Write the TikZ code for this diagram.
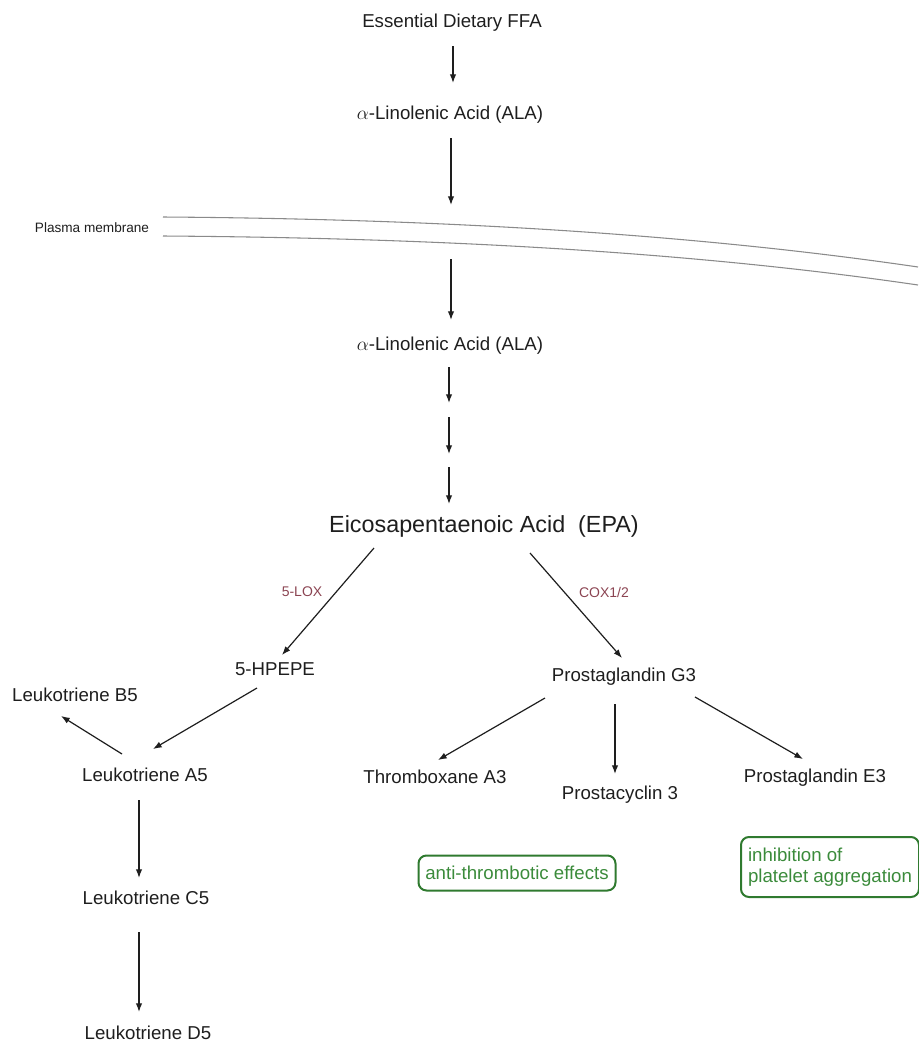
\documentclass[tikz,border=0pt]{standalone}
\usepackage{fontspec}
\setmainfont{Liberation Sans}
\usetikzlibrary{arrows.meta,calc}
\definecolor{txt}{HTML}{1E1E1E}
\definecolor{enz}{HTML}{8B4452}
\definecolor{gtxt}{HTML}{3B8B3B}
\definecolor{gline}{HTML}{2F7A2F}
\definecolor{memb}{HTML}{8A8A8A}
\begin{document}
\begin{tikzpicture}[x=0.75pt,y=-0.75pt,
  lbl/.style={inner sep=0pt, text height=0.72em, text depth=0pt, font=\fontsize{14}{16}\selectfont, text=txt},
  biglbl/.style={lbl, font=\fontsize{17.5}{20}\selectfont},
  enzlbl/.style={lbl, font=\fontsize{10.5}{12}\selectfont, text=enz},
  smalllbl/.style={lbl, font=\fontsize{10.2}{12}\selectfont},
  effect/.style={draw=gline, line width=1.5pt, rounded corners=6pt, text=gtxt, font=\fontsize{14}{15.8}\selectfont, inner sep=0pt},
  arr/.style={draw=txt, line width=0.9pt, -{Latex[length=6.5pt,width=4.8pt]}},
  membline/.style={draw=memb, line width=0.8pt}]
\useasboundingbox (0,0) rectangle (918,1043);

% nodes
\node[lbl] (ffa) at (452,23) {Essential Dietary FFA};
\node[lbl] (ala1) at (450,115) {$\alpha$-Linolenic Acid (ALA)};
\node[smalllbl] (pm) at (92,228) {Plasma membrane};
\node[lbl] (ala2) at (450,346) {$\alpha$-Linolenic Acid (ALA)};
\node[biglbl] (epa) at (484,528) {Eicosapentaenoic Acid~~(EPA)};
\node[enzlbl] (lox) at (302,592) {5-LOX};
\node[enzlbl] (cox) at (604,593) {COX1/2};
\node[lbl] (hpepe) at (275,671) {5-HPEPE};
\node[lbl] (pg3) at (624,677) {Prostaglandin G3};
\node[lbl] (ltb5) at (75,697) {Leukotriene B5};
\node[lbl] (lta5) at (145,777) {Leukotriene A5};
\node[lbl] (ltc5) at (146,900) {Leukotriene C5};
\node[lbl] (ltd5) at (148,1035) {Leukotriene D5};
\node[lbl] (txa3) at (435,779) {Thromboxane A3};
\node[lbl] (pc3) at (620,795) {Prostacyclin 3};
\node[lbl] (pge3) at (815,778) {Prostaglandin E3};
\node[effect, minimum width=147.75pt, minimum height=26.25pt] (eff1) at (517,873) {anti-thrombotic effects};
\node[effect, minimum width=133.5pt, minimum height=45pt, align=left] (eff2) at (830,867) {inhibition of\\platelet aggregation};

% membrane
\coordinate (mu1) at (163,217);
\coordinate (mu2) at (918,267);
\coordinate (ml1) at (163,236);
\coordinate (ml2) at (918,285);
\draw[membline] (mu1) .. controls (450,219) and (700,235) .. (mu2);
\draw[membline] (ml1) .. controls (450,238) and (700,253) .. (ml2);

% arrows
\draw[arr] ($(ffa)+(1,23)$) -- ($(ala1)+(3,-32)$);
\draw[arr] ($(ala1)+(1,23)$) -- ($(ala1)+(1,90)$);
\draw[arr] ($(ala2)+(1,-87)$) -- ($(ala2)+(1,-26)$);
\draw[arr] ($(ala2)+(-1,21)$) -- ($(ala2)+(-1,57)$);
\draw[arr] ($(ala2)+(-1,71)$) -- ($(ala2)+(-1,108)$);
\draw[arr] ($(epa)+(-35,-61)$) -- ($(epa)+(-35,-24)$);
\draw[arr] ($(epa)+(-110,20)$) -- ($(hpepe)+(7,-16)$);
\draw[arr] ($(epa)+(46,25)$) -- ($(pg3)+(-2,-19)$);
\draw[arr] ($(hpepe)+(-18,17)$) -- ($(lta5)+(8,-28)$);
\draw[arr] ($(lta5)+(-23,-23)$) -- ($(ltb5)+(-14,19)$);
\draw[arr] ($(lta5)+(-6,23)$) -- ($(ltc5)+(-7,-22)$);
\draw[arr] ($(ltc5)+(-7,32)$) -- ($(ltd5)+(-9,-23)$);
\draw[arr] ($(pg3)+(-79,21)$) -- ($(txa3)+(3,-19)$);
\draw[arr] ($(pg3)+(-9,27)$) -- ($(pc3)+(-5,-21)$);
\draw[arr] ($(pg3)+(71,20)$) -- ($(pge3)+(-12,-19)$);
\end{tikzpicture}
\end{document}
